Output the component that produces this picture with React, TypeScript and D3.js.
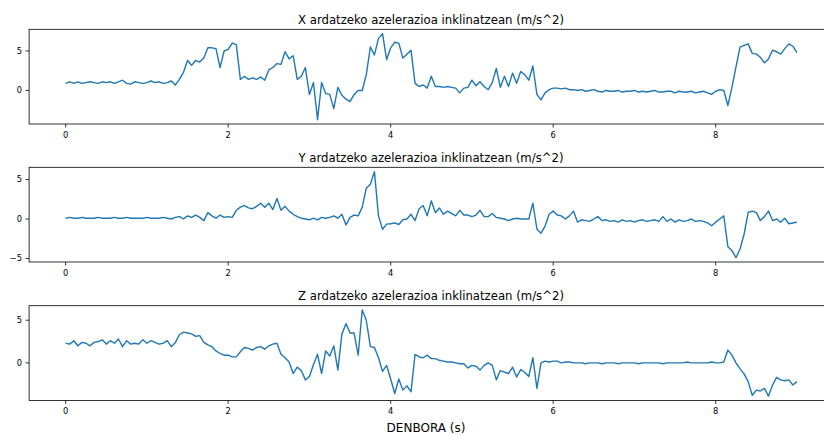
import React from "react";
import * as d3 from "d3";

// Sampling interval of the accelerometer log (seconds)
const TIME_STEP = 0.05;

// Acceleration along X while tilting (m/s^2)
const accelX = [
  0.9, 1.1, 0.9, 1.1, 0.9, 1.0, 1.1, 1.0, 0.9, 1.1,
  1.0, 1.1, 0.9, 1.1, 1.3, 0.9, 0.8, 1.1, 1.0, 0.9,
  1.0, 1.2, 1.0, 1.1, 0.9, 1.0, 1.2, 0.7, 1.4, 2.3,
  3.8, 3.2, 3.8, 3.6, 4.1, 5.4, 5.4, 5.3, 2.9, 5.0,
  5.2, 6.0, 5.8, 1.4, 1.8, 1.4, 1.6, 1.4, 1.7, 1.3,
  2.6, 2.9, 3.4, 3.3, 4.9, 4.0, 4.4, 1.4, 1.8, 2.9,
  -0.5, 1.0, -3.7, 1.0, -0.4, -0.5, -2.3, 0.4, -0.6, -1.1,
  -1.4, -0.5, 0.0, 0.0, 2.0, 5.5, 4.5, 6.6, 7.2, 3.9,
  5.4, 6.1, 6.0, 4.1, 4.6, 5.1, 0.9, 0.5, 0.7, 0.3,
  1.8, 0.5, 0.5, 0.4, 0.5, 0.4, 0.3, -0.3, 0.3, 0.4,
  1.3, 0.6, 1.1, 0.5, 0.1, 1.0, 2.8, 0.4, 1.8, 0.5,
  2.2, 0.9, 2.4, 2.0, 1.3, 3.1, -0.5, -1.2, -0.3, 0.1,
  0.3, 0.3, 0.2, 0.3, 0.1, 0.1, 0.0, 0.1, -0.1, 0.0,
  0.1, -0.1, -0.2, 0.0, -0.1, -0.1, 0.0, -0.2, -0.1, -0.1,
  0.0, -0.2, -0.1, -0.2, -0.1, 0.0, -0.2, -0.2, -0.1, -0.1,
  -0.3, -0.1, -0.2, -0.2, -0.1, -0.3, -0.2, -0.1, -0.3, -0.5,
  -0.1, 0.1, 0.0, -1.9, 0.4, 3.0, 5.5, 5.7, 5.9, 4.7,
  4.6, 4.2, 3.5, 4.0, 5.1, 4.9, 4.6, 5.3, 5.9, 5.6, 4.8,
];

// Acceleration along Y while tilting (m/s^2)
const accelY = [
  0.1, 0.2, 0.1, 0.1, 0.2, 0.1, 0.1, 0.1, 0.2, 0.1,
  0.1, 0.1, 0.2, 0.1, 0.1, 0.2, 0.1, 0.1, 0.1, 0.1,
  0.2, 0.1, 0.1, 0.1, 0.2, 0.1, 0.0, 0.2, 0.3, 0.0,
  0.4, 0.2, 0.5, 0.2, -0.2, 0.8, 0.4, 0.1, 0.5, 0.2,
  0.3, 0.2, 1.1, 1.5, 1.7, 1.4, 1.3, 1.6, 2.0, 1.5,
  2.0, 1.2, 2.6, 1.1, 1.6, 1.0, 0.6, 0.3, 0.1, 0.0,
  -0.1, 0.1, -0.1, 0.2, 0.1, 0.2, 0.4, 0.1, 0.6, -0.75,
  0.2, 0.5, 0.4, 1.5, 3.9, 4.4, 6.0, 0.4, -1.3, -0.65,
  -0.6, -0.5, -0.7, -0.1, 0.0, 0.6, -0.2, 1.3, 1.7, 0.4,
  2.3, 0.8, 1.4, 0.6, 1.0, 0.7, 0.4, 1.1, 0.5, 0.5,
  0.3, 0.5, 1.1, 0.3, 0.3, 0.7, 0.2, 0.1, 0.0, -0.2,
  0.0, 0.1, 0.0, 0.0, 0.0, 2.0, -1.3, -1.8, -0.9, 0.6,
  1.0, 0.5, 0.4, 0.0, 0.4, 1.0, -0.4, -0.1, -0.2, -0.3,
  0.0, 0.3, -0.2, -0.1, -0.3, -0.2, -0.4, -0.1, -0.3, -0.2,
  -0.4, -0.2, -0.1, -0.3, -0.2, -0.1, -0.3, 0.3, -0.3, 0.0,
  -0.4, -0.1, -0.3, -0.2, 0.0, -0.3, -0.2, -0.3, -0.5, -0.85,
  -0.4, 0.0, 0.4, -3.5, -4.0, -4.9, -3.8, -1.9, 0.85, 1.0,
  0.8, -0.2, 0.3, 1.0, -0.2, 0.0, -0.4, 0.1, -0.6, -0.5, -0.4,
];

// Acceleration along Z while tilting (m/s^2)
const accelZ = [
  2.3, 2.2, 2.6, 2.0, 2.4, 2.3, 2.0, 2.4, 2.5, 2.7,
  2.2, 2.6, 2.3, 2.8, 1.9, 2.6, 2.2, 2.3, 2.2, 2.7,
  2.3, 2.6, 2.4, 2.2, 2.3, 2.6, 1.9, 2.4, 3.3, 3.6,
  3.5, 3.4, 3.1, 3.2, 2.4, 2.1, 1.9, 1.4, 1.1, 0.9,
  0.9, 0.7, 0.7, 1.3, 1.8, 1.7, 1.5, 1.8, 1.9, 1.6,
  2.0, 2.2, 2.3, 1.0, 0.6, 0.1, -1.25, -0.5, -0.9, -2.0,
  -1.6, -0.2, 1.0, -1.25, 1.4, 0.8, 2.0, -0.85, 3.4, 4.6,
  3.5, 3.5, 0.9, 6.2, 5.0, 1.9, 1.8, 0.6, -1.0, -0.3,
  -1.9, -3.6, -1.9, -3.2, -2.7, -3.4, 1.0, 0.7, 0.6, 0.9,
  0.5, 0.5, 0.3, 0.2, 0.1, 0.1, 0.0, -0.1, -0.1, -0.6,
  -0.3, -0.4, -0.85, -0.3, 0.0, -0.3, -2.0, -0.9, -1.1, -1.25,
  -0.5, -1.65, -0.8, -1.1, -1.6, 0.6, -3.0, 0.0, 0.2, 0.1,
  0.2, 0.2, 0.0, 0.1, 0.1, 0.0, 0.0, 0.0, -0.1, 0.0,
  0.0, 0.0, -0.1, 0.0, 0.0, 0.0, -0.1, 0.0, 0.0, 0.0,
  0.0, -0.1, 0.0, 0.0, 0.0, 0.0, 0.0, -0.1, 0.0, 0.0,
  0.0, 0.0, 0.0, 0.1, 0.0, 0.0, 0.0, 0.0, 0.0, 0.1,
  0.0, 0.0, 0.1, 1.5, 0.9, 0.0, -0.7, -1.3, -2.2, -3.8,
  -3.2, -3.3, -3.0, -3.9, -2.6, -1.7, -2.0, -2.1, -2.0, -2.6, -2.2,
];

const panelTitles = [
  "X ardatzeko azelerazioa inklinatzean (m/s^2)",
  "Y ardatzeko azelerazioa inklinatzean (m/s^2)",
  "Z ardatzeko azelerazioa inklinatzean (m/s^2)",
];
const timeTicks = [0, 2, 4, 6, 8];
const yTicksX = [0, 5];
const yTicksY = [-5, 0, 5];
const yTicksZ = [0, 5];
const xAxisLabel = "DENBORA (s)";

const WIDTH = 824;
const HEIGHT = 435;
const PLOT_LEFT = 29.1;
const PLOT_RIGHT = 833.5;
const PANEL_TOPS = [29.3, 167.3, 305.7];
const PANEL_HEIGHT = 94.7;
const LINE_COLOR = "#1f77b4";
const FONT = "'DejaVu Sans', sans-serif";
const TICK_FONT = 8.3;
const TITLE_FONT = 11.7;

// Matplotlib-style 5% data margins
function padded(extent: [number, number]): [number, number] {
  const span = extent[1] - extent[0];
  return [extent[0] - span * 0.05, extent[1] + span * 0.05];
}

const times = accelX.map((_, i) => i * TIME_STEP);
const xScale = d3
  .scaleLinear()
  .domain(padded(d3.extent(times) as [number, number]))
  .range([PLOT_LEFT, PLOT_RIGHT]);

type Panel = { title: string; values: number[]; ticks: number[] };
const panels: Panel[] = [
  { title: panelTitles[0], values: accelX, ticks: yTicksX },
  { title: panelTitles[1], values: accelY, ticks: yTicksY },
  { title: panelTitles[2], values: accelZ, ticks: yTicksZ },
];

function fmt(v: number) {
  return v < 0 ? "\u2212" + Math.abs(v) : String(v);
}

function PanelView({ panel, top }: { panel: Panel; top: number }) {
  const bottom = top + PANEL_HEIGHT;
  const yScale = d3
    .scaleLinear()
    .domain(padded(d3.extent(panel.values) as [number, number]))
    .range([bottom, top]);
  const line = d3
    .line<number>()
    .x((_, i) => xScale(times[i]))
    .y((d) => yScale(d));
  const clipId = `clip-${top}`;
  return (
    <g>
      <defs>
        <clipPath id={clipId}>
          <rect x={PLOT_LEFT} y={top} width={PLOT_RIGHT - PLOT_LEFT} height={PANEL_HEIGHT} />
        </clipPath>
      </defs>
      <path
        d={line(panel.values) || ""}
        fill="none"
        stroke={LINE_COLOR}
        strokeWidth={1.4}
        strokeLinejoin="round"
        clipPath={`url(#${clipId})`}
      />
      <rect
        x={PLOT_LEFT}
        y={top}
        width={PLOT_RIGHT - PLOT_LEFT}
        height={PANEL_HEIGHT}
        fill="none"
        stroke="#000"
        strokeWidth={0.8}
      />
      {panel.ticks.map((t) => (
        <g key={`y${t}`}>
          <line x1={PLOT_LEFT - 3.5} x2={PLOT_LEFT} y1={yScale(t)} y2={yScale(t)} stroke="#000" strokeWidth={0.8} />
          <text
            x={PLOT_LEFT - 7}
            y={yScale(t)}
            dy="0.36em"
            textAnchor="end"
            fontSize={TICK_FONT}
            fontFamily={FONT}
            fill="#000"
          >
            {fmt(t)}
          </text>
        </g>
      ))}
      {timeTicks.map((t) => (
        <g key={`x${t}`}>
          <line x1={xScale(t)} x2={xScale(t)} y1={bottom} y2={bottom + 3.5} stroke="#000" strokeWidth={0.8} />
          <text
            x={xScale(t)}
            y={bottom + 14}
            textAnchor="middle"
            fontSize={TICK_FONT}
            fontFamily={FONT}
            fill="#000"
          >
            {fmt(t)}
          </text>
        </g>
      ))}
      <text
        x={431}
        y={top - 5.5}
        textAnchor="middle"
        fontSize={TITLE_FONT}
        fontFamily={FONT}
        fill="#000"
      >
        {panel.title}
      </text>
    </g>
  );
}

export default function App() {
  return (
    <svg
      width={WIDTH}
      height={HEIGHT}
      style={{ position: "absolute", left: 0, top: 0, background: "#fff" }}
    >
      <rect x={0} y={0} width={WIDTH} height={HEIGHT} fill="#fff" />
      {panels.map((p, i) => (
        <PanelView key={p.title} panel={p} top={PANEL_TOPS[i]} />
      ))}
      <text
        x={426}
        y={432}
        textAnchor="middle"
        fontSize={12}
        fontFamily={FONT}
        fill="#000"
      >
        {xAxisLabel}
      </text>
    </svg>
  );
}
